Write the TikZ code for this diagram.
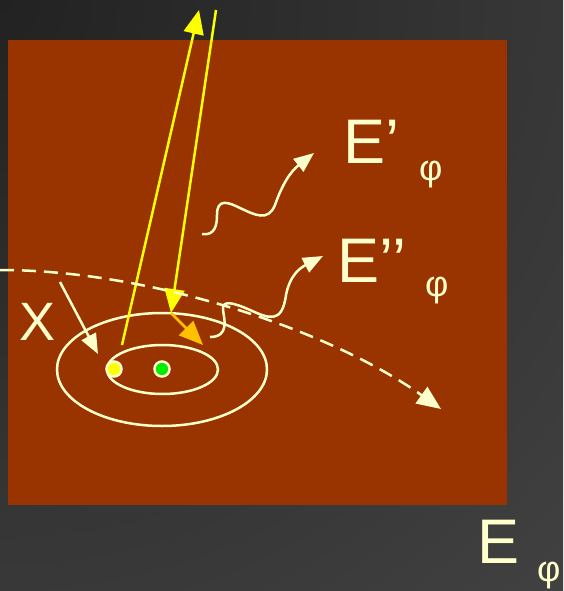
\documentclass[tikz,border=0pt]{standalone}
\usepackage{fontspec}
\setmainfont{Liberation Sans}
\usetikzlibrary{arrows.meta, positioning}

\definecolor{rust}{HTML}{993300}
\definecolor{cream}{HTML}{FFFFCC}
\definecolor{beamyellow}{HTML}{FFFF00}
\definecolor{beamorange}{HTML}{FFC000}
\definecolor{spotgreen}{HTML}{00EE00}
\definecolor{bgdark}{HTML}{222222}
\definecolor{bglight}{HTML}{4A4A4A}

\begin{document}
\begin{tikzpicture}[x=1pt, y=-1pt,
  beam/.style={line width=2.5pt, beamyellow, -{Triangle[length=24pt, width=20pt]}},
  scatter/.style={line width=2.5pt, beamorange, -{Triangle[length=24pt, width=20pt]}},
  wave/.style={line width=2.5pt, cream, -{Triangle[length=20pt, width=16pt]}},
  orbit/.style={line width=2.5pt, cream},
  spot/.style={circle, draw=cream, line width=2.5pt, minimum size=15pt, inner sep=0pt},
  bigtxt/.style={cream, inner sep=0pt, anchor=base west, font=\fontsize{63}{63}\selectfont},
  subtxt/.style={cream, inner sep=0pt, anchor=base west, font=\fontsize{36}{36}\selectfont}]
  % background and sample
  \useasboundingbox (0,0) rectangle (563,591);
  \begin{scope}
    \clip (0,0) rectangle (563,591);
    \shade[inner color=bgdark, outer color=bglight] (0,0) circle (1050);
  \end{scope}
  \fill[rust] (8,40) rectangle (507,505);

  % shells
  \draw[orbit] (162,369.5) ellipse [x radius=105, y radius=56.5];
  \draw[orbit] (162.5,369.5) ellipse [x radius=55.5, y radius=24.5];
  \node[spot, fill=beamyellow] (hole) at (114,369) {};
  \node[spot, fill=spotgreen] (nucleus) at (162,369) {};

  % incoming and outgoing beams
  \coordinate (beamstart) at (122,345);
  \coordinate (beamtop) at (199,10);
  \coordinate (returntop) at (216,10);
  \coordinate (kink) at (171,313);
  \coordinate (kickout) at (203,345);
  \draw[beam] (beamstart) -- (beamtop);
  \draw[beam] (returntop) -- (kink);
  \draw[scatter] (kink) -- (kickout);

  % trajectory
  \coordinate (pathstart) at (0,270);
  \coordinate (pathend) at (441,409);
  \draw[line width=2.5pt, cream, dash pattern=on 14pt off 8pt, -{Triangle[length=24pt, width=20pt]}]
    (pathstart) .. controls (150,270) and (330,330) .. (pathend);

  % emitted photons
  \coordinate (wave1start) at (202,234);
  \coordinate (wave1end) at (314,153);
  \draw[wave] (wave1start) .. controls (215,236) and (217,225) .. (217,215)
    .. controls (217,198) and (228,202) .. (240,208)
    .. controls (255,215) and (268,222) .. (275,205)
    .. controls (282,185) and (290,172) .. (wave1end);
  \coordinate (wave2start) at (210,337);
  \coordinate (wave2end) at (323,256);
  \draw[wave] (wave2start) .. controls (230,337) and (224,318) .. (223,310)
    .. controls (222,300) and (232,302) .. (250,310)
    .. controls (268,318) and (282,325) .. (286,295)
    .. controls (290,275) and (300,268) .. (wave2end);

  % labels
  \node[bigtxt, font=\fontsize{54}{54}\selectfont] (lblX) at (19,340) {X};
  \coordinate (xarrow) at (60,282);
  \coordinate (xtip) at (98,354);
  \draw[wave] (xarrow) -- (xtip);
  \node[bigtxt] (lblEone) at (343,163) {E’};
  \node[subtxt] (subEone) at (419,180) {φ};
  \node[bigtxt] (lblEtwo) at (337,282) {E’’};
  \node[subtxt] (subEtwo) at (425,296) {φ};
  \node[bigtxt] (lblE) at (477,563) {E};
  \node[subtxt] (subE) at (537,581) {φ};
\end{tikzpicture}
\end{document}
